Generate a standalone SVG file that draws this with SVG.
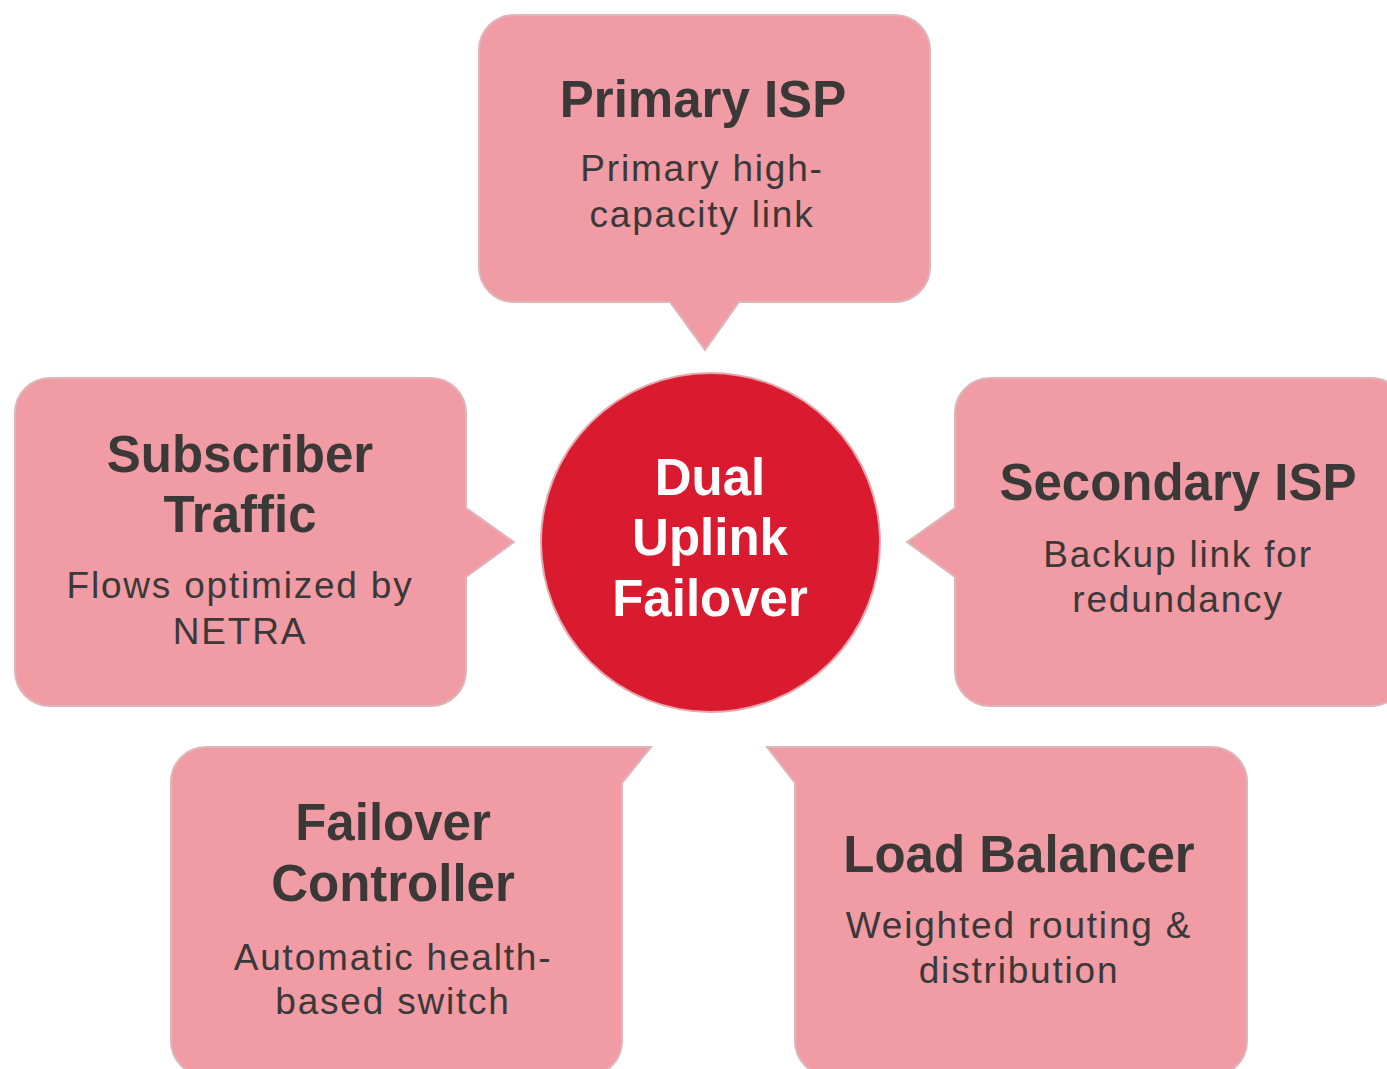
<svg xmlns="http://www.w3.org/2000/svg" width="1387" height="1069" viewBox="0 0 1387 1069">
  <style>
    .box { fill: #F19BA5; stroke: #DDB6BA; stroke-width: 2; stroke-linejoin: miter; }
    .hub { fill: #DA1A2F; stroke: #E3A9AF; stroke-width: 2; }
    .title { font-family: "Liberation Sans", Arial, sans-serif; font-weight: bold; font-size: 51px; fill: #3B3838; text-anchor: middle; }
    .body { font-family: "Liberation Sans", Arial, sans-serif; font-size: 37px; letter-spacing: 1.8px; fill: #3B3838; text-anchor: middle; }
    .hubtext { font-family: "Liberation Sans", Arial, sans-serif; font-weight: bold; font-size: 51px; fill: #FFFFFF; text-anchor: middle; }
  </style>
  <rect width="1387" height="1069" fill="#FFFFFF"/>
  <g id="connectors"></g>
  <g id="primary-isp">
    <path class="box" d="M514,15 H895 A35,35 0 0 1 930,50 V267 A35,35 0 0 1 895,302 H739 L705,350 L670,302 H514 A35,35 0 0 1 479,267 V50 A35,35 0 0 1 514,15 Z"/>
    <text class="title" x="703" y="117">Primary ISP</text>
    <text class="body" x="702" y="181">Primary high-</text>
    <text class="body" x="702" y="227">capacity link</text>
  </g>
  <g id="subscriber-traffic">
    <path class="box" d="M50,378 H431 A35,35 0 0 1 466,413 V508 L514,542 L466,577 V671 A35,35 0 0 1 431,706 H50 A35,35 0 0 1 15,671 V413 A35,35 0 0 1 50,378 Z"/>
    <text class="title" x="240" y="472">Subscriber</text>
    <text class="title" x="240" y="532">Traffic</text>
    <text class="body" x="240" y="598">Flows optimized by</text>
    <text class="body" x="240" y="644">NETRA</text>
  </g>
  <g id="secondary-isp">
    <path class="box" d="M990,378 H1371 A35,35 0 0 1 1406,413 V671 A35,35 0 0 1 1371,706 H990 A35,35 0 0 1 955,671 V577 L907,542 L955,508 V413 A35,35 0 0 1 990,378 Z"/>
    <text class="title" x="1178" y="500">Secondary ISP</text>
    <text class="body" x="1178" y="567">Backup link for</text>
    <text class="body" x="1178" y="612">redundancy</text>
  </g>
  <g id="failover-controller">
    <path class="box" d="M206,747 H651 L622,783 V1041 A35,35 0 0 1 587,1076 H206 A35,35 0 0 1 171,1041 V782 A35,35 0 0 1 206,747 Z"/>
    <text class="title" x="393" y="840">Failover</text>
    <text class="title" x="393" y="901">Controller</text>
    <text class="body" x="393" y="970">Automatic health-</text>
    <text class="body" x="393" y="1014">based switch</text>
  </g>
  <g id="load-balancer">
    <path class="box" d="M767,747 H1212 A35,35 0 0 1 1247,782 V1041 A35,35 0 0 1 1212,1076 H830 A35,35 0 0 1 795,1041 V783 Z"/>
    <text class="title" x="1019" y="872">Load Balancer</text>
    <text class="body" x="1019" y="938">Weighted routing &amp;</text>
    <text class="body" x="1019" y="983">distribution</text>
  </g>
  <g id="dual-uplink-failover">
    <circle class="hub" cx="710.5" cy="542.5" r="169.5"/>
    <text class="hubtext" x="710" y="495">Dual</text>
    <text class="hubtext" x="710" y="555">Uplink</text>
    <text class="hubtext" x="710" y="616">Failover</text>
  </g>
</svg>
